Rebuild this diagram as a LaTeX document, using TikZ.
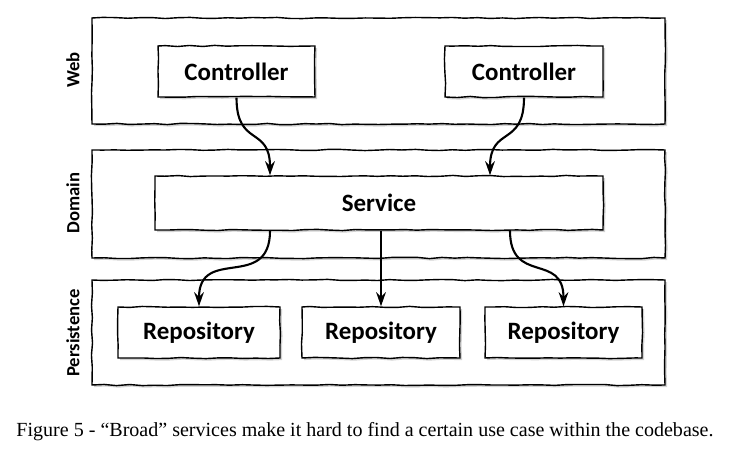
\documentclass[tikz,border=0pt]{standalone}
\usepackage{fontspec}
\setmainfont{Liberation Serif}
\newfontfamily\boxfont{Carlito}
\usetikzlibrary{decorations.pathmorphing,shadows,arrows.meta}
\tikzset{
  sketch/.style={draw, thick, decorate, decoration={random steps, segment length=2.5mm, amplitude=0.35pt}},
  layer/.style={sketch, fill=white, drop shadow={opacity=0.35, shadow xshift=1.2pt, shadow yshift=-1.2pt}},
  comp/.style={layer, font=\boxfont\bfseries\fontsize{14.2}{16}\selectfont, inner sep=0pt},
  lname/.style={rotate=90, font=\boxfont\bfseries\fontsize{10.6}{12}\selectfont},
  flow/.style={line width=1.2pt, -{Stealth[length=8pt, width=5.5pt]}}
}
\begin{document}
\begin{tikzpicture}
\useasboundingbox (0,0) rectangle (14.7,9.04);

\node[layer, minimum width=11.46cm, minimum height=2.12cm] (web) at (7.57,7.62) {};
\node[layer, minimum width=11.46cm, minimum height=2.16cm] (domain) at (7.57,4.96) {};
\node[layer, minimum width=11.46cm, minimum height=2.1cm] (pers) at (7.57,2.39) {};

\node[lname] (webl) at (1.46,7.64) {Web};
\node[lname] (doml) at (1.46,4.98) {Domain};
\node[lname] (persl) at (1.46,2.38) {Persistence};

\node[comp, minimum width=3.14cm, minimum height=1.02cm] (ctrlA) at (4.73,7.61) {Controller};
\node[comp, minimum width=3.16cm, minimum height=1.02cm] (ctrlB) at (10.48,7.61) {Controller};
\node[comp, minimum width=8.96cm, minimum height=1.08cm] (svc) at (7.58,4.98) {Service};
\node[comp, minimum width=3.24cm, minimum height=1.02cm] (repoA) at (3.98,2.39) {Repository};
\node[comp, minimum width=3.16cm, minimum height=1.02cm] (repoB) at (7.62,2.39) {Repository};
\node[comp, minimum width=3.14cm, minimum height=1.02cm] (repoC) at (11.27,2.39) {Repository};

\draw[flow] (ctrlA.south) to[out=-90, in=90, looseness=1.5] ([xshift=-2.18cm]svc.north);
\draw[flow] (ctrlB.south) to[out=-90, in=90, looseness=1.5] ([xshift=2.22cm]svc.north);
\draw[flow] ([xshift=-2.18cm]svc.south) to[out=-90, in=90, looseness=1.5] (repoA.north);
\draw[flow] (svc.south -| repoB.north) -- (repoB.north);
\draw[flow] ([xshift=2.62cm]svc.south) to[out=-90, in=90, looseness=1.5] (repoC.north);

\node[font=\fontsize{11.4}{13}\selectfont] (caption) at (7.3,0.41) {Figure 5 - “Broad” services make it hard to find a certain use case within the codebase.};
\end{tikzpicture}
\end{document}
